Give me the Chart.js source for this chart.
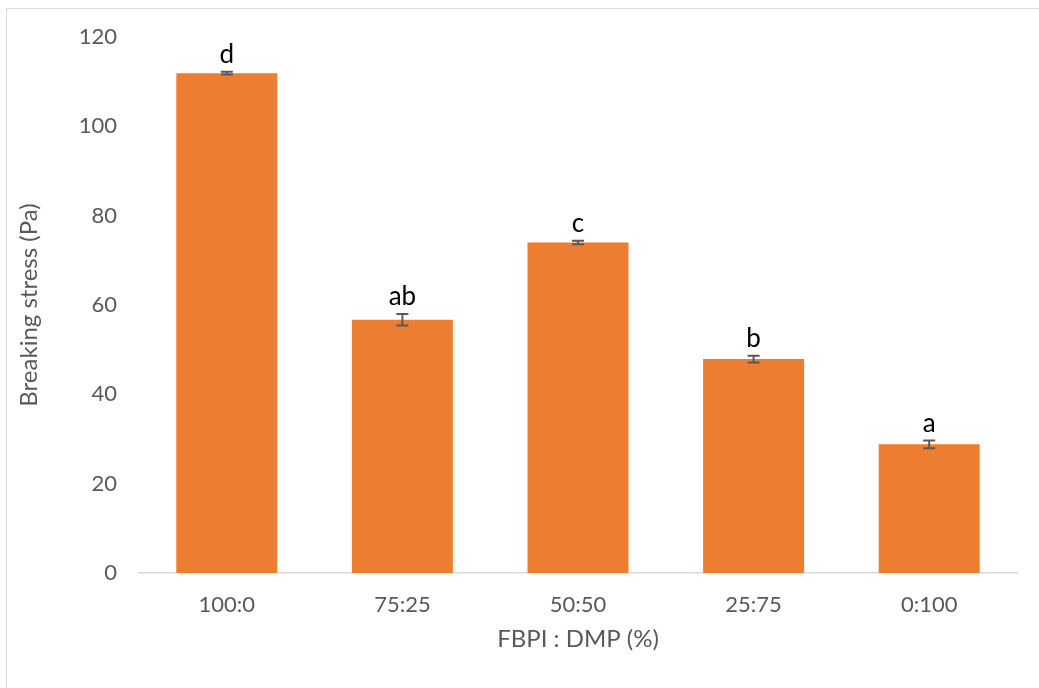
<!DOCTYPE html>
<html>
<head>
<meta charset="utf-8">
<title>Breaking stress</title>
<script src="https://cdn.jsdelivr.net/npm/chart.js@4"></script>
<style>
	html, body { margin: 0; padding: 0; background: #fff; overflow: hidden; }
	#frame {
		position: absolute; left: 6px; top: 8px;
		width: 1200px; height: 800px;
		border: 1px solid #d9d9d9;
	}
	#wrap { position: absolute; left: 0; top: 0; width: 1039px; height: 688px; }
</style>
</head>
<body>
<div id="frame"></div>
<div id="wrap"><canvas id="chart"></canvas></div>
<script>
// blend ratios and measured breaking stress
var ratios = ["100:0", "75:25", "50:50", "25:75", "0:100"];
var stress = [111.9, 56.7, 74.0, 47.9, 28.8];
var stressErr = [0.3, 1.3, 0.4, 0.75, 0.85];
var groups = ["d", "ab", "c", "b", "a"];
var yTicks = [0, 20, 40, 60, 80, 100, 120];

var FONT = "Lato";
var GREY = "#595959";

// error bars with small caps, drawn on top of the bars
var errorBars = {
	id: "errorBars",
	afterDatasetsDraw: function (chart) {
		var ctx = chart.ctx;
		var y = chart.scales.y;
		var meta = chart.getDatasetMeta(0);
		ctx.save();
		ctx.strokeStyle = GREY;
		ctx.lineWidth = 2;
		meta.data.forEach(function (bar, i) {
			var top = y.getPixelForValue(stress[i] + stressErr[i]);
			var bot = y.getPixelForValue(stress[i] - stressErr[i]);
			var x = bar.x;
			ctx.beginPath();
			ctx.moveTo(x, top);
			ctx.lineTo(x, bot);
			ctx.moveTo(x - 6, top);
			ctx.lineTo(x + 6, top);
			ctx.moveTo(x - 6, bot);
			ctx.lineTo(x + 6, bot);
			ctx.stroke();
		});
		ctx.restore();
	},
};

// significance letters above each error bar
var groupLetters = {
	id: "groupLetters",
	afterDatasetsDraw: function (chart) {
		var ctx = chart.ctx;
		var y = chart.scales.y;
		var meta = chart.getDatasetMeta(0);
		ctx.save();
		ctx.fillStyle = "#000";
		ctx.font = "26px " + FONT;
		ctx.textAlign = "center";
		ctx.textBaseline = "alphabetic";
		meta.data.forEach(function (bar, i) {
			var top = y.getPixelForValue(stress[i] + stressErr[i]);
			ctx.fillText(groups[i], bar.x, top - 9);
		});
		ctx.restore();
	},
};

new Chart(document.getElementById("chart"), {
	type: "bar",
	data: {
		labels: ratios,
		datasets: [
			{
				label: "Breaking stress",
				data: stress,
				backgroundColor: "#ED7D31",
				borderWidth: 0,
				categoryPercentage: 1,
				barPercentage: 0.575,
			},
		],
	},
	options: {
		responsive: true,
		maintainAspectRatio: false,
		animation: false,
		layout: {
			padding: { left: 0, right: 22, top: 37, bottom: 0 },
		},
		plugins: {
			legend: { display: false },
			tooltip: { enabled: false },
		},
		scales: {
			y: {
				min: 0,
				max: 120,
				afterFit: function (scale) {
					scale.width = 139;
				},
				afterBuildTicks: function (scale) {
					scale.ticks = yTicks.map(function (v) {
						return { value: v };
					});
				},
				border: { display: false },
				grid: { display: false, drawTicks: false },
				ticks: {
					color: GREY,
					padding: 22,
					font: { family: FONT, size: 22 },
				},
				title: {
					display: true,
					text: "Breaking stress (Pa)",
					color: GREY,
					padding: { top: 15, bottom: 0 },
					font: { family: FONT, size: 24 },
				},
			},
			x: {
				afterFit: function (scale) {
					scale.height = 115;
				},
				border: { display: true, color: "#d9d9d9", width: 1.5 },
				grid: { display: false, drawTicks: false },
				ticks: {
					color: GREY,
					padding: 19,
					font: { family: FONT, size: 22 },
				},
				title: {
					display: true,
					text: "FBPI : DMP (%)",
					color: GREY,
					padding: { top: 0, bottom: 34 },
					font: { family: FONT, size: 24 },
				},
			},
		},
	},
	plugins: [errorBars, groupLetters],
});
</script>
</body>
</html>
